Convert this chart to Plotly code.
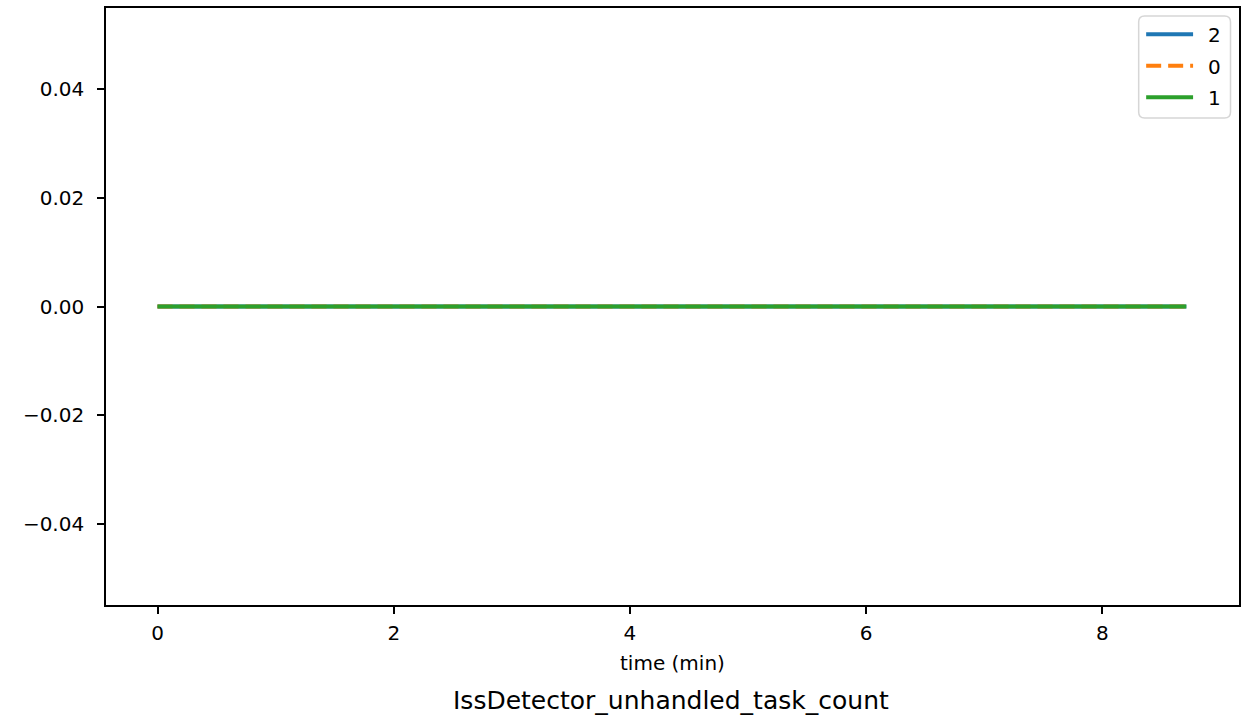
import plotly.graph_objects as go

# ---- data ----
series_names = ["2", "0", "1"]
time_2 = [0.0, 0.5, 1.0, 1.5, 2.0, 2.5, 3.0, 3.5, 4.0, 4.5, 5.0, 5.5, 6.0, 6.5, 7.0, 7.5, 8.0, 8.5, 8.71]
vals_2 = [0, 0, 0, 0, 0, 0, 0, 0, 0, 0, 0, 0, 0, 0, 0, 0, 0, 0, 0]
time_0 = [0.0, 0.5, 1.0, 1.5, 2.0, 2.5, 3.0, 3.5, 4.0, 4.5, 5.0, 5.5, 6.0, 6.5, 7.0, 7.5, 8.0, 8.5, 8.73]
vals_0 = [0, 0, 0, 0, 0, 0, 0, 0, 0, 0, 0, 0, 0, 0, 0, 0, 0, 0, 0]
time_1 = [0.0, 0.5, 1.0, 1.5, 2.0, 2.5, 3.0, 3.5, 4.0, 4.5, 5.0, 5.5, 6.0, 6.5, 7.0, 7.5, 8.0, 8.5, 8.71]
vals_1 = [0, 0, 0, 0, 0, 0, 0, 0, 0, 0, 0, 0, 0, 0, 0, 0, 0, 0, 0]

x_ticks = [0, 2, 4, 6, 8]
y_ticks = [-0.04, -0.02, 0.0, 0.02, 0.04]
x_label = "time (min)"
chart_title = "IssDetector_unhandled_task_count"

FONT = "DejaVu Sans"
W, H = 1243, 718
ML, MR, MT, MB = 106, 2, 8, 113
PW, PH = W - ML - MR, H - MT - MB

styles = [
    dict(color="#1f77b4", width=4, dash="solid"),
    dict(color="#ff7f0e", width=4, dash="15px,7px"),
    dict(color="#2ca02c", width=4, dash="solid"),
]
series = [(time_2, vals_2), (time_0, vals_0), (time_1, vals_1)]

fig = go.Figure()
for name, (xs, ys), st in zip(series_names, series, styles):
    fig.add_trace(go.Scatter(x=xs, y=ys, mode="lines", name=name, showlegend=False,
                             line=dict(color=st["color"], width=st["width"], dash=st["dash"])))

axis_common = dict(showline=True, linecolor="black", linewidth=1.6, mirror=True,
                   showgrid=False, zeroline=False, ticks="outside", ticklen=7,
                   tickwidth=1.6, tickcolor="black",
                   tickfont=dict(family=FONT, size=20, color="black"))

fig.update_xaxes(range=[-0.436, 9.156], tickvals=x_ticks, ticklabelstandoff=2, **axis_common)
fig.update_yaxes(range=[-0.055, 0.055], tickvals=y_ticks, tickformat=".2f",
                 ticklabelstandoff=9, **axis_common)

fig.add_annotation(text=x_label, xref="paper", yref="paper", x=0.5, y=-0.097,
                   xanchor="center", yanchor="middle", showarrow=False,
                   font=dict(family=FONT, size=20, color="black"))
fig.add_annotation(text=chart_title, xref="paper", yref="paper", x=0.4985, y=-0.16,
                   xanchor="center", yanchor="middle", showarrow=False,
                   font=dict(family=FONT, size=25, color="black"))


# ---- legend (drawn in paper coordinates, positions from page pixels) ----
def px_x(p):
    return (p - ML) / PW


def px_y(p):
    return (H - MB - p) / PH


bx0, bx1, by0, by1, r = 1140.5, 1232.5, 16, 118, 6
rx, ry = r / PW, r / PH
X0, X1, Y0, Y1 = px_x(bx0), px_x(bx1), px_y(by1), px_y(by0)
path = (f"M{X0 + rx},{Y1} L{X1 - rx},{Y1} Q{X1},{Y1} {X1},{Y1 - ry} "
        f"L{X1},{Y0 + ry} Q{X1},{Y0} {X1 - rx},{Y0} L{X0 + rx},{Y0} "
        f"Q{X0},{Y0} {X0},{Y0 + ry} L{X0},{Y1 - ry} Q{X0},{Y1} {X0 + rx},{Y1} Z")
fig.add_shape(type="path", path=path, xref="paper", yref="paper",
              fillcolor="rgba(255,255,255,0.8)", line=dict(color="#d6d6d6", width=1.5),
              layer="above")

row_y = [34.3, 65.7, 97.3]
for name, st, ry_px in zip(series_names, styles, row_y):
    fig.add_shape(type="line", xref="paper", yref="paper",
                  x0=px_x(1148), x1=px_x(1195), y0=px_y(ry_px), y1=px_y(ry_px),
                  line=dict(color=st["color"], width=st["width"], dash=st["dash"]),
                  layer="above")
    fig.add_annotation(text=name, xref="paper", yref="paper",
                       x=px_x(1208), y=px_y(ry_px + 1), xanchor="left", yanchor="middle",
                       showarrow=False, font=dict(family=FONT, size=20, color="black"))

fig.update_layout(
    width=W, height=H,
    margin=dict(l=ML, r=MR, t=MT, b=MB),
    plot_bgcolor="white", paper_bgcolor="white",
    showlegend=False,
)

fig.write_html("out.html", config={"displayModeBar": False},
               post_script="document.body.style.margin='0';document.body.style.overflow='hidden';")
